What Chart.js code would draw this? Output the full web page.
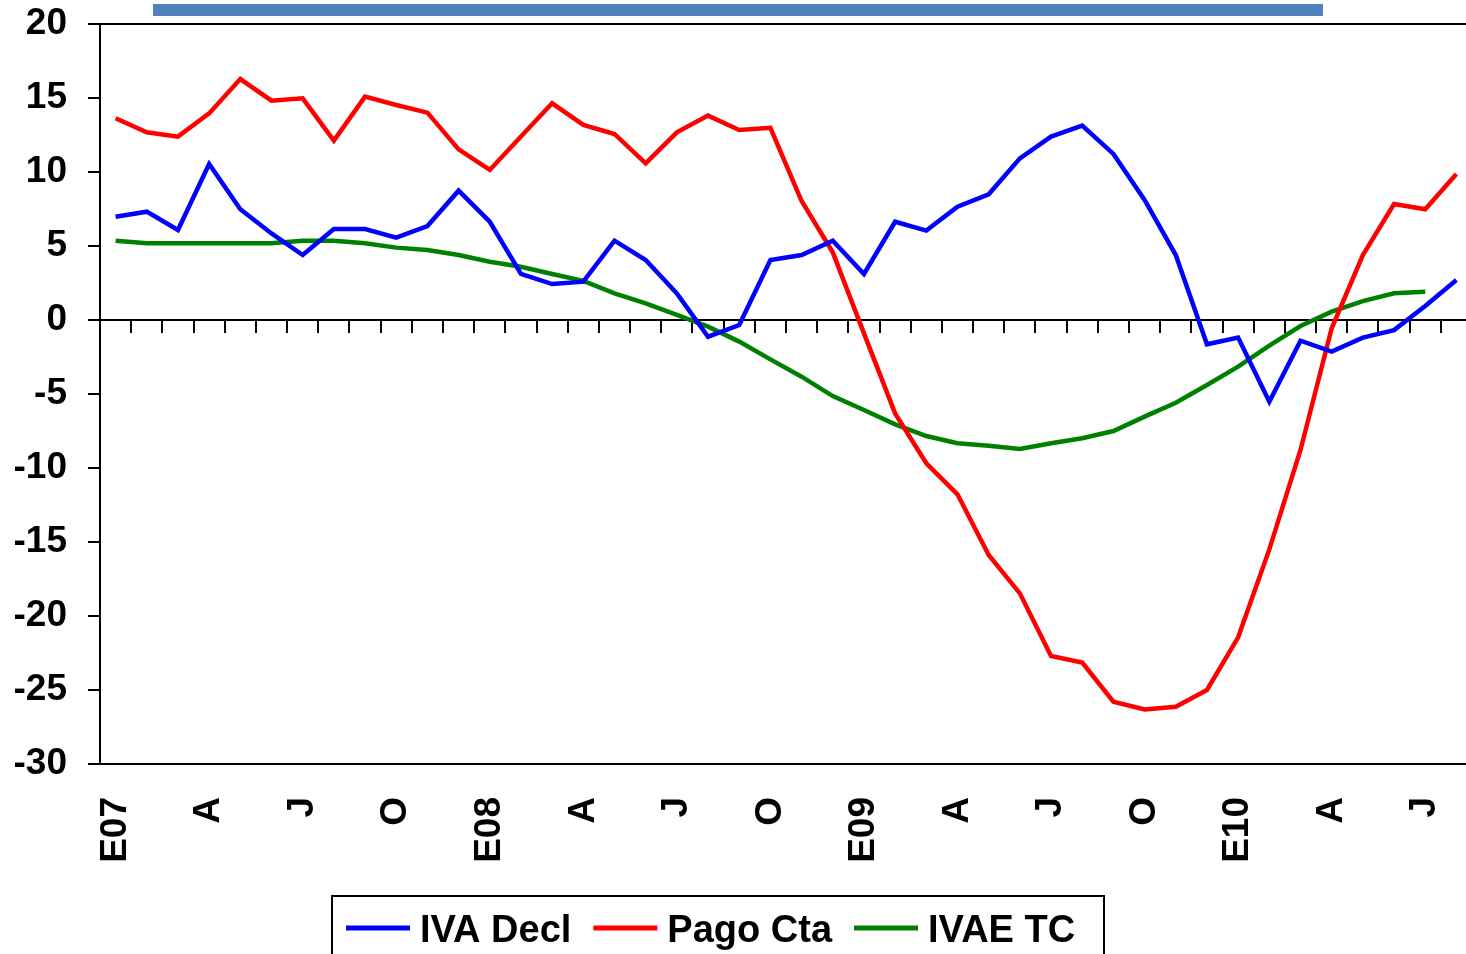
<!DOCTYPE html>
<html lang="es">
<head>
<meta charset="utf-8">
<title>IVA Decl, Pago Cta e IVAE TC</title>
<script src="https://cdn.jsdelivr.net/npm/chart.js@4.4.1/dist/chart.umd.min.js"></script>
<style>
    html, body { margin: 0; padding: 0; overflow: hidden; background: #fff; }
    #grafico { display: block; }
</style>
</head>
<body>
<canvas id="grafico" width="1473" height="954"></canvas>
<script>
// Meses de enero 2007 a agosto 2010 (etiqueta solo al inicio de cada trimestre)
const meses = [
    'E07', '', '', 'A', '', '', 'J', '', '', 'O', '', '',
    'E08', '', '', 'A', '', '', 'J', '', '', 'O', '', '',
    'E09', '', '', 'A', '', '', 'J', '', '', 'O', '', '',
    'E10', '', '', 'A', '', '', 'J', ''
];

const ivaDecl = [
    6.98, 7.32, 6.08, 10.54, 7.48, 5.85, 4.39, 6.15, 6.15, 5.56, 6.35, 8.74,
    6.64, 3.11, 2.43, 2.59, 5.36, 4.05, 1.80, -1.13, -0.34, 4.05, 4.39, 5.36,
    3.11, 6.64, 6.04, 7.66, 8.49, 10.92, 12.39, 13.13, 11.22, 8.11, 4.39, -1.64,
    -1.19, -5.52, -1.40, -2.14, -1.19, -0.68, 0.95, 2.70
];

const pagoCta = [
    13.63, 12.68, 12.39, 13.96, 16.28, 14.82, 14.98, 12.12, 15.09, 14.53, 14.01, 11.53,
    10.14, 12.40, 14.64, 13.18, 12.57, 10.59, 12.68, 13.81, 12.84, 12.99, 8.04, 4.57,
    -0.90, -6.31, -9.68, -11.78, -15.88, -18.47, -22.70, -23.15, -25.79, -26.31, -26.13, -25.00,
    -21.44, -15.50, -8.78, -0.56, 4.39, 7.84, 7.48, 9.86
];

const ivaeTc = [
    5.36, 5.18, 5.18, 5.18, 5.18, 5.18, 5.36, 5.36, 5.18, 4.89, 4.73, 4.39,
    3.94, 3.60, 3.11, 2.64, 1.80, 1.13, 0.34, -0.45, -1.46, -2.66, -3.83, -5.14,
    -6.08, -7.05, -7.84, -8.33, -8.49, -8.72, -8.33, -7.99, -7.50, -6.53, -5.59, -4.39,
    -3.15, -1.73, -0.41, 0.56, 1.28, 1.80, 1.91, null
];

const FUENTE = '"Liberation Sans", Arial, sans-serif';
Chart.defaults.font.family = FUENTE;
Chart.defaults.color = '#000';

// Barra del titulo (cortada arriba) y leyenda con marco
const decoracion = {
    id: 'decoracion',
    afterDraw(chart) {
        const ctx = chart.ctx;
        ctx.save();
        ctx.fillStyle = '#4F81BD';
        ctx.fillRect(153, 4, 1170, 12);

        ctx.strokeStyle = '#000';
        ctx.lineWidth = 2;
        ctx.strokeRect(332, 896, 772, 90);

        ctx.font = 'bold 38px ' + FUENTE;
        ctx.textBaseline = 'alphabetic';
        let x = 346;
        chart.data.datasets.forEach(ds => {
            ctx.strokeStyle = ds.borderColor;
            ctx.lineWidth = 5;
            ctx.beginPath();
            ctx.moveTo(x, 928);
            ctx.lineTo(x + 64, 928);
            ctx.stroke();
            ctx.fillStyle = '#000';
            ctx.fillText(ds.label, x + 74, 942);
            x += 74 + ctx.measureText(ds.label).width + 22;
        });
        ctx.restore();
    }
};

new Chart(document.getElementById('grafico'), {
    type: 'line',
    data: {
        labels: meses,
        datasets: [
            { label: 'IVA Decl', data: ivaDecl, borderColor: '#0000FF' },
            { label: 'Pago Cta', data: pagoCta, borderColor: '#FF0000' },
            { label: 'IVAE TC', data: ivaeTc, borderColor: '#008000' }
        ]
    },
    options: {
        responsive: false,
        animation: false,
        layout: { padding: { top: 24, right: 1, left: 0, bottom: 0 } },
        elements: {
            point: { radius: 0 },
            line: { borderWidth: 4.5, tension: 0, fill: false }
        },
        plugins: {
            legend: { display: false },
            tooltip: { enabled: false }
        },
        scales: {
            x: {
                type: 'category',
                position: 'bottom',
                offset: true,
                grid: { drawOnChartArea: false, drawTicks: false },
                border: { display: true, color: '#000', width: 2 },
                ticks: {
                    autoSkip: false,
                    minRotation: 90,
                    maxRotation: 90,
                    padding: 33,
                    color: '#000',
                    font: { size: 37, weight: 'bold' }
                },
                afterFit: s => {
                    s.height = 190;
                    s.paddingLeft = 0;
                    s.paddingRight = 0;
                }
            },
            // eje horizontal en el cero, con marcas entre meses
            cero: {
                type: 'category',
                axis: 'x',
                position: { y: 0 },
                offset: true,
                grid: {
                    offset: true,
                    drawOnChartArea: false,
                    drawTicks: true,
                    tickLength: 12,
                    tickColor: '#000',
                    lineWidth: 2
                },
                border: { display: true, color: '#000', width: 2 },
                ticks: { display: false }
            },
            y: {
                min: -30,
                max: 20,
                ticks: {
                    stepSize: 5,
                    padding: 21,
                    color: '#000',
                    font: { size: 37, weight: 'bold' }
                },
                grid: {
                    drawOnChartArea: true,
                    color: c => (c.tick && c.tick.value === 20) ? '#000' : 'rgba(0,0,0,0)',
                    tickColor: '#000',
                    tickLength: 12,
                    lineWidth: 2
                },
                border: { color: '#000', width: 2 },
                afterFit: s => {
                    s.width = 100;
                    s.paddingTop = 0;
                    s.paddingBottom = 0;
                }
            }
        }
    },
    plugins: [decoracion]
});
</script>
</body>
</html>
